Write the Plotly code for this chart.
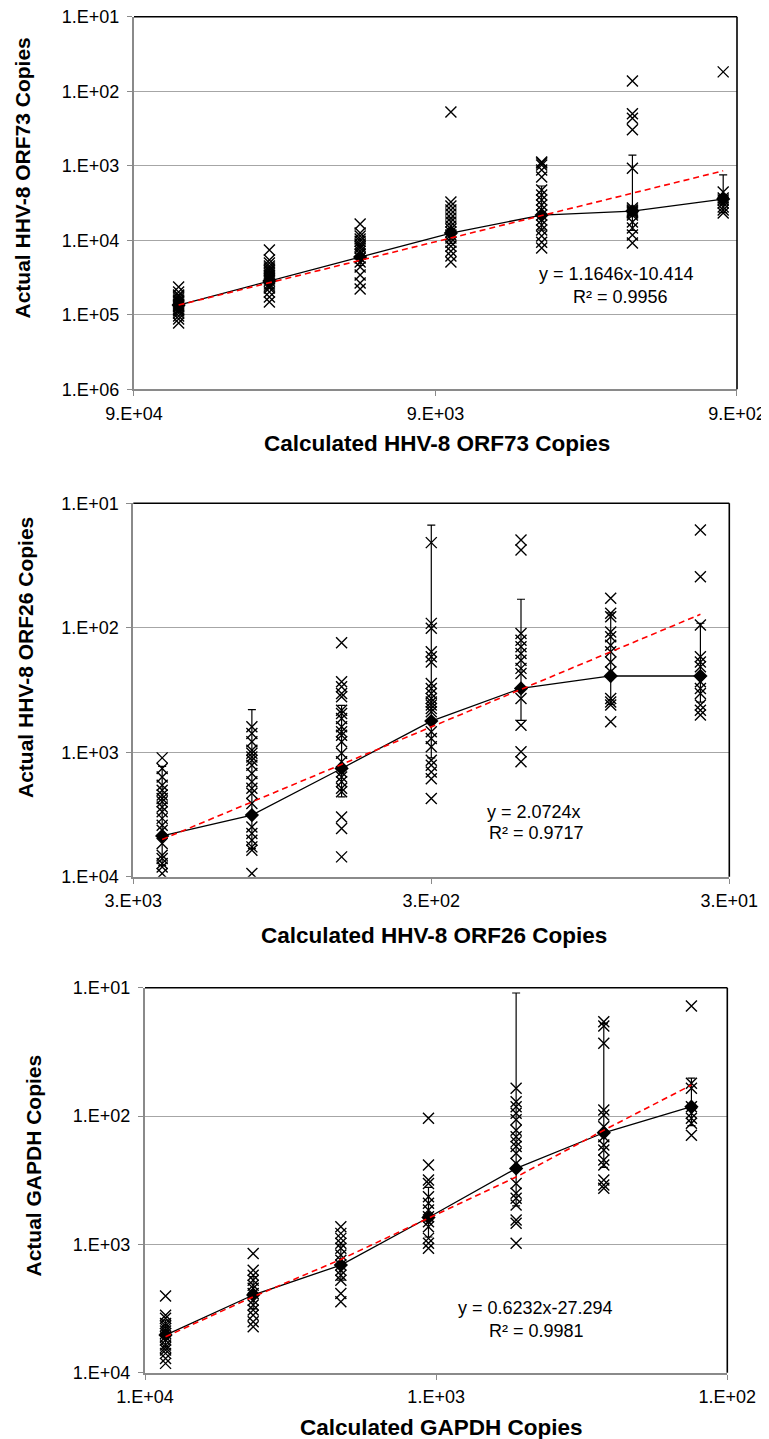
import plotly.graph_objects as go

# page is 769x1439; the HTML body adds an 8px margin, so the figure is drawn 8px in
PAGE_W, PAGE_H, OFF = 769, 1439, 8
W, H = PAGE_W - OFF, PAGE_H - OFF

# ---------------- data ----------------
# Panel 1: HHV-8 ORF73
p1_calc = [64000, 32000, 16000, 8000, 4000, 2000, 1000]
p1_reps = [
    [42400, 49500, 54300, 56100, 59700, 63500, 65500, 67500, 71900, 74100, 76400, 78800, 83800, 86500, 89200, 94900, 104000, 114000, 129000],
    [13500, 18400, 20200, 22200, 23600, 25100, 25900, 27500, 29300, 30200, 32100, 33200, 35300, 38700, 41200, 43800, 49500, 57800, 67500],
    [6060, 8000, 8780, 9640, 10300, 11300, 12000, 12700, 14000, 15300, 17300, 19600, 22900, 29300, 37500, 45100],
    [190, 3070, 3480, 3930, 4450, 5030, 5700, 6450, 7070, 7760, 8520, 9340, 10600, 12000, 14000, 16300, 19600],
    [890, 920, 980, 1140, 1420, 2120, 2470, 2880, 3370, 3930, 4590, 5350, 6250, 7300, 8780, 10600, 12700],
    [73, 200, 230, 330, 1080, 3700, 3930, 4060, 4180, 4320, 4590, 5700, 6860, 8520, 10900],
    [55, 2250, 2710, 2880, 3170, 3580, 3930, 4320],
]
p1_mean = [74100, 35300, 16800, 8000, 4590, 4060, 2800]
p1_err = [12000, 9000, 5000, 3000, 2720, 3340, 1470]
p1_trend = [74100, 37100, 18500, 9310, 4660, 2330, 1170]
p1_xticks = [90000, 9000, 900]
p1_xticktext = ["9.E+04", "9.E+03", "9.E+02"]
p1_yticks = [10, 100, 1000, 10000, 100000, 1000000]
p1_yticktext = ["1.E+01", "1.E+02", "1.E+03", "1.E+04", "1.E+05", "1.E+06"]
p1_eq = ["y = 1.1646x-10.414", "R² = 0.9956"]
p1_xtitle = "Calculated HHV-8 ORF73 Copies"
p1_ytitle = "Actual HHV-8 ORF73 Copies"

# Panel 2: HHV-8 ORF26
p2_calc = [2400, 1200, 600, 300, 150, 75, 37.5]
p2_reps = [
    [1110, 1350, 1580, 1840, 2020, 2210, 2350, 2500, 2750, 3010, 3400, 3860, 4230, 5410, 6720, 7140, 7830, 8340, 9420],
    [625, 706, 825, 962, 1020, 1090, 1160, 1270, 1480, 1730, 1950, 2140, 2580, 3980, 4490, 5090, 5760, 6120, 9420],
    [132, 272, 298, 337, 359, 459, 488, 535, 625, 686, 729, 825, 1020, 1190, 1440, 1580, 1730, 1950, 2080, 3310, 4100, 6930],
    [20.7, 92.2, 101, 156, 171, 188, 280, 307, 337, 370, 394, 418, 445, 473, 686, 774, 905, 1160, 1270, 1440, 1630, 2350],
    [19.7, 23.7, 111, 126, 142, 161, 182, 212, 233, 370, 606, 993, 1190],
    [58, 76.6, 81.6, 108, 118, 138, 156, 188, 226, 370, 394, 418, 570],
    [16.4, 38.9, 95.1, 171, 188, 206, 272, 307, 337, 418, 459, 503],
]
p2_mean = [4700, 3200, 1350, 562, 307, 244, 244]
p2_err = [3400, 2745, 930, 547, 248, 168, 152]
p2_trend = [5020, 2510, 1250, 626, 313, 156, 78]
p2_xticks = [3000, 300, 30]
p2_xticktext = ["3.E+03", "3.E+02", "3.E+01"]
p2_yticks = [10, 100, 1000, 10000]
p2_yticktext = ["1.E+01", "1.E+02", "1.E+03", "1.E+04"]
p2_eq = ["y = 2.0724x", "R² = 0.9717"]
p2_xtitle = "Calculated HHV-8 ORF26 Copies"
p2_ytitle = "Actual HHV-8 ORF26 Copies"

# Panel 3: GAPDH
p3_calc = [8500, 4250, 2125, 1062.5, 531.25, 265.6, 132.8]
p3_reps = [
    [2530, 3560, 3770, 4130, 4320, 4520, 4740, 4940, 5250, 5570, 6090, 6370, 6660, 7070, 7740, 8460],
    [1180, 1590, 1740, 1900, 2080, 2200, 2410, 2720, 2970, 3250, 3560, 4010, 4390],
    [729, 821, 898, 982, 1070, 1210, 1330, 1450, 1590, 1740, 1900, 2410, 2800],
    [104, 241, 315, 335, 426, 479, 540, 609, 666, 729, 898, 982, 1070],
    [60.8, 77.3, 84.6, 95.3, 107, 129, 145, 159, 173, 195, 234, 335, 400, 438, 494, 646, 686, 982],
    [18.4, 19.9, 27.1, 89.8, 98.2, 121, 145, 168, 184, 220, 241, 315, 345, 366],
    [13.9, 55.6, 60.8, 84.6, 95.3, 104, 114, 141],
]
p3_mean = [5090, 2480, 1450, 618, 256, 135, 84.6]
p3_err = [1200, 700, 450, 258, 245, 116, 34]
p3_trend = [5250, 2560, 1310, 627, 299, 129, 57.3]
p3_xticks = [10000, 1000, 100]
p3_xticktext = ["1.E+04", "1.E+03", "1.E+02"]
p3_yticks = [10, 100, 1000, 10000]
p3_yticktext = ["1.E+01", "1.E+02", "1.E+03", "1.E+04"]
p3_eq = ["y = 0.6232x-27.294", "R² = 0.9981"]
p3_xtitle = "Calculated GAPDH Copies"
p3_ytitle = "Actual GAPDH Copies"

# ---------------- layout geometry (page pixels -> paper fractions) ----------------
def px(x):
    return (x - OFF) / W

def py(y):
    return 1 - (y - OFF) / H

panels = [
    dict(calc=p1_calc, reps=p1_reps, mean=p1_mean, err=p1_err, trend=p1_trend,
         xticks=p1_xticks, xtt=p1_xticktext, yticks=p1_yticks, ytt=p1_yticktext,
         xr=[4.9542, 2.9542], yr=[6, 1], eq=p1_eq, xt=p1_xtitle, yt=p1_ytitle,
         box=(134, 737, 16.7, 389.3), eqpos=[(616, 274), (620, 297)],
         xtpos=(436.5, 443), ytpos=(22, 178.5)),
    dict(calc=p2_calc, reps=p2_reps, mean=p2_mean, err=p2_err, trend=p2_trend,
         xticks=p2_xticks, xtt=p2_xticktext, yticks=p2_yticks, ytt=p2_yticktext,
         xr=[3.4771, 1.4771], yr=[4, 1], eq=p2_eq, xt=p2_xtitle, yt=p2_ytitle,
         box=(133.3, 729.3, 503.3, 876.7), eqpos=[(534, 811.7), (536.7, 832.7)],
         xtpos=(434, 935), ytpos=(25, 658)),
    dict(calc=p3_calc, reps=p3_reps, mean=p3_mean, err=p3_err, trend=p3_trend,
         xticks=p3_xticks, xtt=p3_xticktext, yticks=p3_yticks, ytt=p3_yticktext,
         xr=[4, 2], yr=[4, 1], eq=p3_eq, xt=p3_xtitle, yt=p3_ytitle,
         box=(145, 727.3, 987.7, 1372.7), eqpos=[(535, 1308.3), (536.7, 1330.7)],
         xtpos=(441, 1427), ytpos=(32.5, 1166)),
]

FONT = "Liberation Sans, Arial, Helvetica, sans-serif"
AXIS_GRAY = "#8a8a8a"
GRID_GRAY = "#a6a6a6"

fig = go.Figure()
layout = dict(template="none", width=W, height=H, autosize=False,
              margin=dict(l=0, r=0, t=0, b=0, pad=0, autoexpand=False),
              paper_bgcolor="white", plot_bgcolor="white",
              showlegend=False, font=dict(family=FONT, color="black"))
annotations = []
shapes = []

for i, p in enumerate(panels, start=1):
    xa = "x" if i == 1 else f"x{i}"
    ya = "y" if i == 1 else f"y{i}"
    xs, ys = [], []
    for c, col in zip(p["calc"], p["reps"]):
        for v in col:
            xs.append(c)
            ys.append(v)
    fig.add_trace(go.Scatter(
        x=xs, y=ys, mode="markers", xaxis=xa, yaxis=ya,
        marker=dict(symbol="x-thin-open", size=11, color="black",
                    line=dict(color="black", width=1.4)),
        hoverinfo="x+y"))
    fig.add_trace(go.Scatter(
        x=p["calc"], y=p["mean"], mode="lines+markers", xaxis=xa, yaxis=ya,
        line=dict(color="black", width=1.3),
        marker=dict(symbol="diamond", size=11, color="black"),
        error_y=dict(type="data", array=p["err"], symmetric=True,
                     color="black", thickness=1.2, width=4)))
    fig.add_trace(go.Scatter(
        x=p["calc"], y=p["trend"], mode="lines", xaxis=xa, yaxis=ya,
        line=dict(color="#ff0000", width=1.6, dash="6px,4px")))

    x0, x1, y0, y1 = p["box"]
    xkey = "xaxis" if i == 1 else f"xaxis{i}"
    ykey = "yaxis" if i == 1 else f"yaxis{i}"
    layout[xkey] = dict(
        type="log", range=p["xr"], domain=[px(x0), px(x1)], anchor=ya,
        automargin=False, ticklabeloverflow="allow",
        tickmode="array", tickvals=p["xticks"], ticktext=p["xtt"],
        ticks="outside", ticklen=5, tickwidth=1.3, tickcolor=AXIS_GRAY,
        showline=True, linecolor=AXIS_GRAY, linewidth=2, mirror=False,
        showgrid=False, zeroline=False,
        tickfont=dict(family=FONT, size=18, color="black"),
        ticklabelstandoff=2)
    layout[ykey] = dict(
        type="log", range=p["yr"], domain=[py(y1), py(y0)], anchor=xa,
        automargin=False, ticklabeloverflow="allow",
        tickmode="array", tickvals=p["yticks"], ticktext=p["ytt"],
        ticks="outside", ticklen=5, tickwidth=1.3, tickcolor=AXIS_GRAY,
        showline=True, linecolor=AXIS_GRAY, linewidth=2, mirror=False,
        showgrid=True, gridcolor=GRID_GRAY, gridwidth=1.3, zeroline=False,
        tickfont=dict(family=FONT, size=18, color="black"),
        ticklabelstandoff=4)

    # top and right black borders of the plot area
    shapes.append(dict(type="line", xref="paper", yref="paper",
                       x0=px(x0), x1=px(x1), y0=py(y0), y1=py(y0),
                       line=dict(color="black", width=1.6), layer="above"))
    shapes.append(dict(type="line", xref="paper", yref="paper",
                       x0=px(x1), x1=px(x1), y0=py(y0), y1=py(y1),
                       line=dict(color="black", width=1.6), layer="above"))

    for txt, (ex, ey) in zip(p["eq"], p["eqpos"]):
        annotations.append(dict(text=txt, xref="paper", yref="paper",
                                x=px(ex), y=py(ey), xanchor="center", yanchor="middle",
                                showarrow=False, font=dict(family=FONT, size=18, color="black")))
    annotations.append(dict(text=f"<b>{p['xt']}</b>", xref="paper", yref="paper",
                            x=px(p["xtpos"][0]), y=py(p["xtpos"][1]),
                            xanchor="center", yanchor="middle", showarrow=False,
                            font=dict(family=FONT, size=22.5, color="black")))
    annotations.append(dict(text=f"<b>{p['yt']}</b>", xref="paper", yref="paper",
                            x=px(p["ytpos"][0]), y=py(p["ytpos"][1]), textangle=-90,
                            xanchor="center", yanchor="middle", showarrow=False,
                            font=dict(family=FONT, size=21, color="black")))

layout["annotations"] = annotations
layout["shapes"] = shapes
fig.update_layout(**layout)
fig.write_html("out.html")
